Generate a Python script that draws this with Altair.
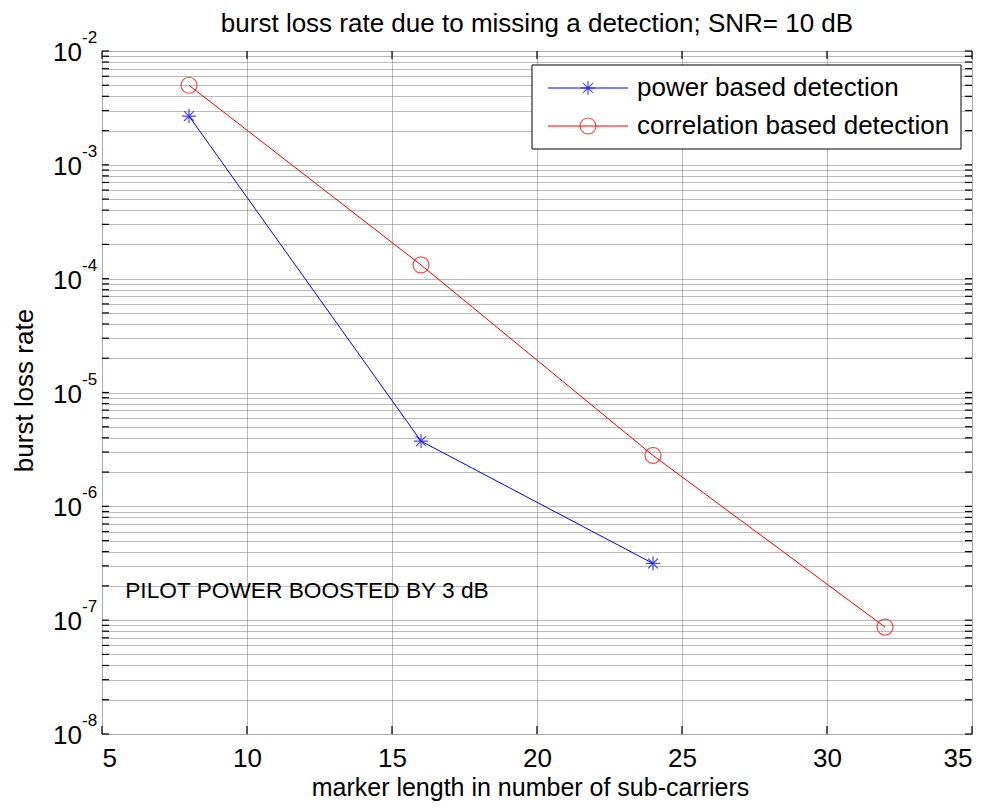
import altair as alt
import pandas as pd

# ---- data ----
power_x = [8, 16, 24]
power_y = [2.68e-3, 3.74e-6, 3.15e-7]
corr_x = [8, 16, 24, 32]
corr_y = [5.0e-3, 1.32e-4, 2.8e-6, 8.7e-8]

x_ticks = [5, 10, 15, 20, 25, 30, 35]
y_exponents = [-8, -7, -6, -5, -4, -3, -2]
legend_labels = ["power based detection", "correlation based detection"]
series_colors = ["#0000ff", "#ff0000"]

title_text = "burst loss rate due to missing a  detection; SNR= 10 dB"
x_title = "marker length in number of sub-carriers"
y_title = "burst loss rate"
note_text = "PILOT POWER BOOSTED BY 3 dB"
note_pos = (5.8, 1.8e-7)

FONT = "Liberation Sans"
W, H = 870, 683

y_major = [10.0 ** e for e in y_exponents]
y_all = sorted(set([m * 10.0 ** e for e in y_exponents[:-1] for m in range(1, 10)] + y_major))

power_df = pd.DataFrame({"x": power_x, "y": power_y, "series": legend_labels[0]})
corr_df = pd.DataFrame({"x": corr_x, "y": corr_y, "series": legend_labels[1]})

xscale = alt.Scale(domain=[5, 35], nice=False, zero=False)
yscale = alt.Scale(type="log", domain=[1e-8, 1e-2], nice=False)


def X(**kw):
    return alt.X("x:Q", scale=xscale, **kw)


def Y(**kw):
    return alt.Y("y:Q", scale=yscale, **kw)


# grid layer carrying the axes
grid_df = pd.DataFrame({"x": [5, 35], "y": [1e-8, 1e-2]})
grid = alt.Chart(grid_df).mark_point(opacity=0).encode(
    x=X(axis=alt.Axis(values=x_ticks, grid=True, gridColor="#777777", gridDash=[1, 1],
                      gridWidth=1, ticks=False, domain=False, labelFontSize=26,
                      labelPadding=11, labelColor="black", labelFont=FONT,
                      title=x_title, titleFontSize=25, titleFont=FONT, titleFontWeight="normal",
                      titleColor="black", titlePadding=4, titleX=428, format="d")),
    y=Y(axis=alt.Axis(values=y_all, grid=True, gridColor="#777777", gridDash=[1, 1],
                      gridWidth=1, ticks=False, domain=False, labels=False,
                      title=y_title, titleFontSize=26, titleFont=FONT, titleFontWeight="normal",
                      titleColor="black", titlePadding=65, titleY=339)),
)

# inside ticks
ytick_df = pd.DataFrame({"y": y_all})
left_ticks = alt.Chart(ytick_df).mark_rule(color="black", strokeWidth=1.2).encode(
    y=Y(), x=alt.value(0), x2=alt.value(7))
right_ticks = alt.Chart(ytick_df).mark_rule(color="black", strokeWidth=1.2).encode(
    y=Y(), x=alt.value(W - 7), x2=alt.value(W))
xtick_df = pd.DataFrame({"x": x_ticks})
bottom_ticks = alt.Chart(xtick_df).mark_rule(color="black", strokeWidth=1.2).encode(
    x=X(), y=alt.value(H - 8), y2=alt.value(H))
top_ticks = alt.Chart(xtick_df).mark_rule(color="black", strokeWidth=1.2).encode(
    x=X(), y=alt.value(0), y2=alt.value(8))

# y labels with superscripts
ylab_df = pd.DataFrame({"y": y_major, "base": ["10"] * len(y_major),
                        "exp": [str(e) for e in y_exponents]})
ylab_base = alt.Chart(ylab_df).mark_text(align="right", baseline="middle", fontSize=26, font=FONT,
                                         color="black", dy=2).encode(
    y=Y(), x=alt.value(-20), text="base:N")
ylab_exp = alt.Chart(ylab_df).mark_text(align="left", baseline="middle", fontSize=17, font=FONT,
                                        color="black", dy=-13).encode(
    y=Y(), x=alt.value(-20), text="exp:N")

asterisk = "M-1,0L1,0M0,-1L0,1M-0.7,-0.7L0.7,0.7M-0.7,0.7L0.7,-0.7"

power_line = alt.Chart(power_df).mark_line(color=series_colors[0], strokeWidth=1).encode(
    x=X(), y=Y())
power_pts = alt.Chart(power_df).mark_point(shape=asterisk, color=series_colors[0], filled=False,
                                           size=200, strokeWidth=1.2).encode(
    x=X(), y=Y())
corr_line = alt.Chart(corr_df).mark_line(color=series_colors[1], strokeWidth=1).encode(
    x=X(), y=Y())
corr_pts = alt.Chart(corr_df).mark_point(shape="circle", color=series_colors[1], filled=False,
                                         size=256, strokeWidth=1.2).encode(
    x=X(), y=Y())

note_df = pd.DataFrame({"x": [note_pos[0]], "y": [note_pos[1]], "t": [note_text]})
note = alt.Chart(note_df).mark_text(align="left", baseline="middle", fontSize=22.7, font=FONT,
                                    color="black").encode(
    x=X(), y=Y(), text="t:N")

# legend (drawn manually: line + marker + label inside a box)
LX0, LX1, LY0, LY1 = 430, 859, 14, 98
legend_box = alt.Chart(pd.DataFrame({"a": [0]})).mark_rect(
    fill="white", stroke="black", strokeWidth=1).encode(
    x=alt.value(LX0), x2=alt.value(LX1), y=alt.value(LY0), y2=alt.value(LY1))
leg_rows = [37, 75]
leg_layers = []
for i, (lab, col, ry) in enumerate(zip(legend_labels, series_colors, leg_rows)):
    d = pd.DataFrame({"label": [lab]})
    leg_layers.append(alt.Chart(d).mark_rule(color=col, strokeWidth=1).encode(
        x=alt.value(446), x2=alt.value(526), y=alt.value(ry)))
    if i == 0:
        leg_layers.append(alt.Chart(d).mark_point(shape=asterisk, color=col, filled=False, size=200,
                                                  strokeWidth=1.2).encode(
            x=alt.value(486), y=alt.value(ry)))
    else:
        leg_layers.append(alt.Chart(d).mark_point(shape="circle", color=col, filled=False, size=256,
                                                  strokeWidth=1.2).encode(
            x=alt.value(486), y=alt.value(ry)))
    leg_layers.append(alt.Chart(d).mark_text(align="left", baseline="middle", fontSize=26, font=FONT,
                                             color="black").encode(
        x=alt.value(535), y=alt.value(ry), text="label:N"))

chart = alt.layer(
    grid, left_ticks, right_ticks, bottom_ticks, top_ticks,
    power_line, corr_line, power_pts, corr_pts, note, ylab_base, ylab_exp,
    legend_box, *leg_layers
).properties(
    width=W, height=H,
    title=alt.TitleParams(title_text, fontSize=26, font=FONT, fontWeight="normal", color="black",
                          anchor="middle", offset=14, frame="group", dy=22),
    autosize=alt.AutoSizeParams(type="none"),
    padding={"left": 102, "top": 51, "right": 20, "bottom": 74},
).configure_view(stroke="black", strokeWidth=1.5).configure(background="white")

chart.save("out.html", embed_options={"renderer": "svg", "actions": False})
